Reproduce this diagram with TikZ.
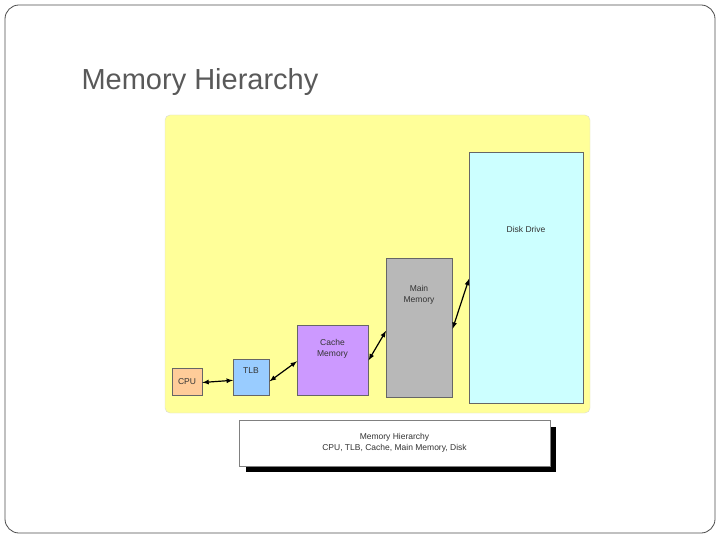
\documentclass[tikz,border=0pt]{standalone}
\usepackage{fontspec}
\setmainfont{Liberation Sans}
\definecolor{yel}{HTML}{FFFF99}
\definecolor{tlbc}{HTML}{99CCFF}
\definecolor{cachec}{HTML}{CC99FF}
\definecolor{diskc}{HTML}{CCFFFF}
\definecolor{cpuc}{HTML}{FFCC99}
\begin{document}
\begin{tikzpicture}[x=1pt,y=-1pt,
 box/.style={draw=black!60,line width=0.6pt,align=center,font=\fontsize{8.5}{10.5}\selectfont,text=black!80},
 arr/.style={<->,>=latex,line width=1.2pt}]
\useasboundingbox (0,0) rectangle (720,540);
\draw[black!70,rounded corners=14pt,line width=0.8pt] (5,5) rectangle (715,533);
\node[anchor=west,text=black!65,font=\fontsize{29}{32}\selectfont] (title) at (78,82) {Memory Hierarchy};
\draw[fill=yel,draw=black!15,rounded corners=5pt] (165,115) rectangle (590,413);
\node[box,fill=cpuc,minimum width=30pt,minimum height=27pt] (cpu) at (187,381.5) {CPU};
\node[box,fill=tlbc,minimum width=36pt,minimum height=36pt,anchor=north west,inner sep=0pt] (tlb) at (233,359) {};
\node[box,draw=none] at (251,371) {TLB};
\node[box,fill=cachec,minimum width=71pt,minimum height=70pt,anchor=north west] (cache) at (297,325) {};
\node[box,draw=none] at (332.5,349) {Cache\\Memory};
\node[box,fill=black!28,minimum width=66pt,minimum height=139pt,anchor=north west] (main) at (386,258) {};
\node[box,draw=none] at (419,295) {Main\\Memory};
\node[box,fill=diskc,minimum width=114pt,minimum height=251pt,anchor=north west] (disk) at (469,152) {};
\node[box,draw=none] at (526,229) {Disk Drive};
\draw[arr] (cpu.east) ++(0,1) coordinate (a1) (a1) -- ([yshift=-3pt]tlb.west);
\draw[arr] ([yshift=-4pt]tlb.east) -- ([yshift=-1pt]cache.west);
\draw[arr] ([yshift=0pt]cache.east) -- ([yshift=-3pt]main.west);
\draw[arr] ([yshift=-1pt]main.east) -- ([yshift=-1pt]disk.west);
\fill[black] (246,427) rectangle (556,472);
\node[box,fill=white,minimum width=311pt,minimum height=46pt,draw=black!50] (cap) at (394.5,443) {Memory Hierarchy\\CPU, TLB, Cache, Main Memory, Disk};
\end{tikzpicture}
\end{document}
